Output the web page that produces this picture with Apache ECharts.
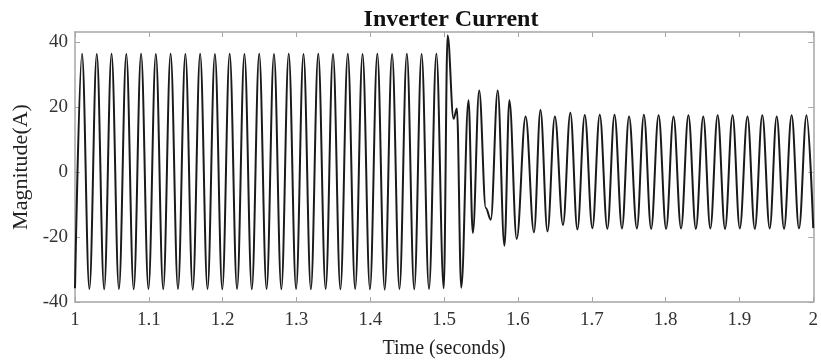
<!DOCTYPE html>
<html>
<head>
<meta charset="utf-8">
<script src="https://cdn.jsdelivr.net/npm/echarts@6/dist/echarts.min.js"></script>
<style>html,body{margin:0;padding:0;background:#fff}#c{width:821px;height:364px}</style>
</head>
<body>
<div id="c"></div>
<script>
// Extremum points (peaks / troughs)
var times = [
  1.0000, 1.0095, 1.0195, 1.0295, 1.0395, 1.0495, 1.0595, 1.0695, 1.0795, 1.0895,
  1.0995, 1.1095, 1.1195, 1.1295, 1.1395, 1.1495, 1.1595, 1.1695, 1.1795, 1.1895,
  1.1995, 1.2095, 1.2195, 1.2295, 1.2395, 1.2495, 1.2595, 1.2695, 1.2795, 1.2895,
  1.2995, 1.3095, 1.3195, 1.3295, 1.3395, 1.3495, 1.3595, 1.3695, 1.3795, 1.3895,
  1.3995, 1.4095, 1.4195, 1.4295, 1.4395, 1.4495, 1.4595, 1.4695, 1.4795, 1.4895,
  1.4995, 1.5047, 1.5128, 1.5173, 1.5232, 1.5330, 1.5389, 1.5475, 1.5565, 1.5632,
  1.5726, 1.5817, 1.5884, 1.5983, 1.6104, 1.6217, 1.6305, 1.6400, 1.6500, 1.6610,
  1.6710, 1.6805, 1.6905, 1.7008, 1.7108, 1.7211, 1.7308, 1.7409, 1.7505, 1.7611,
  1.7706, 1.7804, 1.7905, 1.8007, 1.8107, 1.8209, 1.8309, 1.8410, 1.8510, 1.8606,
  1.8705, 1.8805, 1.8907, 1.9005, 1.9109, 1.9208, 1.9310, 1.9410, 1.9505, 1.9604,
  1.9707, 1.9807, 1.9909, 2.0000
];
var current = [
  -35.8, 36.3, -36.0, 36.2, -36.1, 36.3, -36.0, 36.2, -36.1, 36.3,
  -36.0, 36.2, -36.1, 36.3, -36.0, 36.2, -36.2, 36.3, -36.0, 36.2,
  -36.1, 36.3, -36.0, 36.2, -36.1, 36.3, -36.0, 36.2, -36.1, 36.3,
  -36.0, 36.2, -36.1, 36.3, -36.0, 36.2, -36.1, 36.3, -36.0, 36.2,
  -36.1, 36.3, -36.2, 36.2, -36.0, 36.3, -36.1, 36.2, -36.0, 36.3,
  -35.8, 42.0, 16.3, 19.5, -35.6, 22.0, -18.8, 25.0, -11.1, -14.7,
  25.0, -22.7, 22.0, -20.6, 17.0, -18.6, 19.0, -18.3, 17.0, -16.3,
  18.2, -17.7, 17.5, -17.3, 17.6, -17.5, 17.6, -17.4, 17.0, -17.4,
  17.6, -17.5, 17.4, -17.5, 17.0, -17.4, 17.4, -17.5, 17.0, -17.4,
  17.4, -17.5, 17.4, -17.4, 17.0, -17.5, 17.4, -17.4, 17.0, -17.5,
  17.4, -17.4, 17.4, -17.3
];
var xTicks = { min: 1, max: 2, step: 0.1 };
var yTicks = { min: -40, max: 43, step: 20 };

var data = times.map(function (t, i) { return [t, current[i]]; });
var font = 'Liberation Serif';
var axisCol = '#a6a6a6';

var chart = echarts.init(document.getElementById('c'), null, { renderer: 'canvas' });
chart.setOption({
  animation: false,
  backgroundColor: '#fff',
  title: {
    text: 'Inverter Current',
    left: 446, top: 3, textAlign: 'center',
    textStyle: { fontFamily: font, fontWeight: 'bold', fontSize: 24, color: '#111' }
  },
  grid: { left: 75, right: 4, top: 32, bottom: 61, containLabel: false },
  xAxis: [{
    type: 'value', min: xTicks.min, max: xTicks.max, interval: xTicks.step,
    name: 'Time (seconds)', nameLocation: 'middle', nameGap: 37,
    nameTextStyle: { fontFamily: font, fontSize: 20, color: '#222' },
    axisLine: { show: true, onZero: false, lineStyle: { color: axisCol, width: 1.5 } },
    axisTick: { show: true, inside: true, length: 5, lineStyle: { color: axisCol } },
    axisLabel: { fontFamily: font, fontSize: 19, color: '#333', margin: 9 },
    splitLine: { show: false }
  }, {
    type: 'value', position: 'top', min: xTicks.min, max: xTicks.max, interval: xTicks.step,
    axisLine: { show: true, onZero: false, lineStyle: { color: axisCol, width: 1.5 } },
    axisTick: { show: true, inside: true, length: 5, lineStyle: { color: axisCol } },
    axisLabel: { show: false }, splitLine: { show: false }
  }],
  yAxis: [{
    type: 'value', min: yTicks.min, max: yTicks.max, interval: yTicks.step,
    name: 'Magnitude(A)', nameLocation: 'middle', nameGap: 37,
    nameTextStyle: { fontFamily: font, fontSize: 22, color: '#222' },
    axisLine: { show: true, onZero: false, lineStyle: { color: axisCol, width: 1.5 } },
    axisTick: { show: true, inside: true, length: 5, lineStyle: { color: axisCol } },
    axisLabel: { fontFamily: font, fontSize: 19, color: '#333', margin: 7, showMaxLabel: false },
    splitLine: { show: false }
  }, {
    type: 'value', position: 'right', min: yTicks.min, max: yTicks.max, interval: yTicks.step,
    axisLine: { show: true, onZero: false, lineStyle: { color: axisCol, width: 1.5 } },
    axisTick: { show: true, inside: true, length: 5, lineStyle: { color: axisCol } },
    axisLabel: { show: false }, splitLine: { show: false }
  }],
  series: [{
    type: 'line', data: data, xAxisIndex: 0, yAxisIndex: 0,
    smooth: 0.37, smoothMonotone: 'x', showSymbol: false, symbol: 'none',
    lineStyle: { color: '#1a1a1a', width: 2 }
  }]
});
</script>
</body>
</html>
